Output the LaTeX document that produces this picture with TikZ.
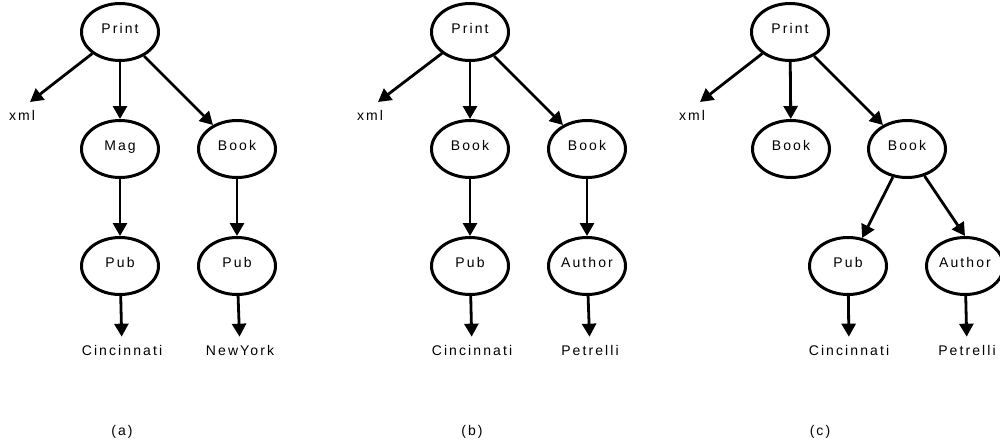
\documentclass[tikz,border=0pt]{standalone}
\usepackage{fontspec}
\setmainfont{Liberation Sans}[LetterSpace=15]
\usetikzlibrary{arrows.meta,shapes.geometric}

\tikzset{
  txt/.style={font=\fontsize{14}{16}\selectfont},
  elem/.style={txt, ellipse, draw, line width=3pt, minimum width=77pt,
    minimum height=57pt, inner sep=0pt, text height=10pt, text depth=7pt},
  leaf/.style={txt, inner sep=8pt},
  caption/.style={txt, inner sep=0pt},
  edge/.style={line width=2.8pt, -{Triangle[length=13pt,width=14pt]}},
}

\begin{document}
\begin{tikzpicture}[x=1pt,y=-1pt]
\path[use as bounding box] (0,0) rectangle (1000,445);

% ---------- tree (a) ----------
\node[elem] (pa) at (120,32) {Print};
\node[leaf] (xa) at (22,115) {xml};
\node[elem] (maga) at (120,149) {Mag};
\node[elem] (booka) at (237,149) {Book};
\node[elem] (puba1) at (120,266) {Pub};
\node[elem] (puba2) at (237,266) {Pub};
\node[leaf] (cina) at (122,350) {Cincinnati};
\node[leaf] (nya) at (240,350) {NewYork};
\node[caption] (capa) at (122,432) {(a)};

\draw[edge] (pa) -- ([shift={(8pt,13pt)}]xa.center);
\draw[edge] (pa) -- (maga);
\draw[edge] (pa) -- (booka);
\draw[edge] (maga) -- (puba1);
\draw[edge] (booka) -- (puba2);
\draw[edge] (puba1) -- (cina);
\draw[edge] (puba2) -- (nya);

% ---------- tree (b) ----------
\node[elem] (pb) at (470,32) {Print};
\node[leaf] (xb) at (370,115) {xml};
\node[elem] (bookb1) at (470,149) {Book};
\node[elem] (bookb2) at (587,149) {Book};
\node[elem] (pubb) at (470,266) {Pub};
\node[elem] (authb) at (587,266) {Author};
\node[leaf] (cinb) at (472,350) {Cincinnati};
\node[leaf] (petb) at (590,350) {Petrelli};
\node[caption] (capb) at (472,432) {(b)};

\draw[edge] (pb) -- ([shift={(8pt,13pt)}]xb.center);
\draw[edge] (pb) -- (bookb1);
\draw[edge] (pb) -- (bookb2);
\draw[edge] (bookb1) -- (pubb);
\draw[edge] (bookb2) -- (authb);
\draw[edge] (pubb) -- (cinb);
\draw[edge] (authb) -- (petb);

% ---------- tree (c) ----------
\node[elem] (pc) at (790,32) {Print};
\node[leaf] (xc) at (692,115) {xml};
\node[elem] (bookc1) at (791,149) {Book};
\node[elem] (bookc2) at (907,149) {Book};
\node[elem] (pubc) at (848,266) {Pub};
\node[elem] (authc) at (965,266) {Author};
\node[leaf] (cinc) at (849,350) {Cincinnati};
\node[leaf] (petc) at (967,350) {Petrelli};
\node[caption] (capc) at (820,432) {(c)};

\draw[edge] (pc) -- ([shift={(8pt,13pt)}]xc.center);
\draw[edge] (pc) -- (bookc1);
\draw[edge] (pc) -- (bookc2);
\draw[edge] (bookc2) -- (pubc);
\draw[edge] (bookc2.-57) -- (authc.north);
\draw[edge] (pubc) -- (cinc);
\draw[edge] (authc) -- (petc);
\end{tikzpicture}
\end{document}
